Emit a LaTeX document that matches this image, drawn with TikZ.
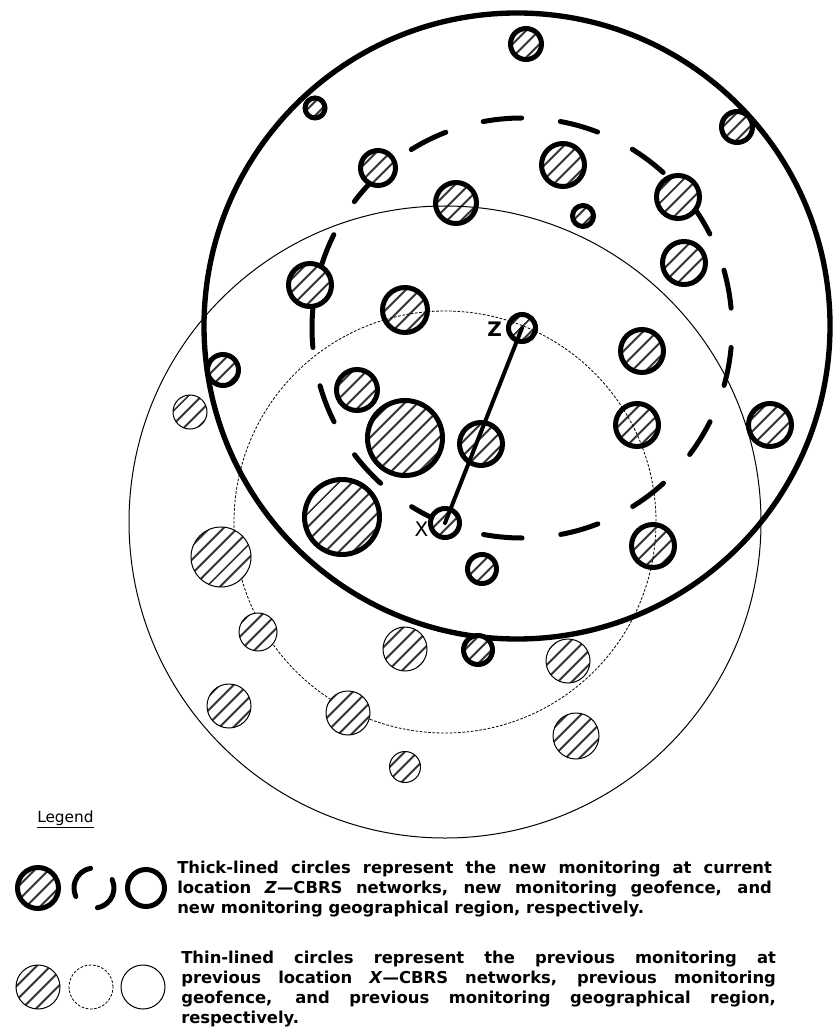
\documentclass[tikz,border=0pt]{standalone}
\usepackage{fontspec}
\setmainfont{DejaVu Sans}
\usepackage{tikz}
\usetikzlibrary{patterns.meta}
\tikzset{
  hatch/.style={preaction={fill=white}, pattern={Lines[angle=45,distance=7.4pt,line width=1.6pt]}, pattern color=black!80},
  newnet/.style={circle, draw, line width=3.75pt, hatch, inner sep=0pt, outer sep=0pt, minimum size=#1*1.5pt},
  oldnet/.style={circle, draw, line width=0.75pt, hatch, inner sep=0pt, outer sep=0pt, minimum size=#1*1.5pt},
  newzone/.style={line width=4pt},
  newfence/.style={line width=3.75pt, line cap=round, dash pattern=on 29pt off 29.2pt, dash phase=43.6pt},
  fencekey/.style={line width=3.75pt, line cap=round},
  oldzone/.style={line width=0.75pt},
  oldfence/.style={line width=0.6pt, dash pattern=on 2pt off 1.2pt},
  keyring/.style={circle, draw, inner sep=0pt, outer sep=0pt, minimum size=#1*1.5pt},
  track/.style={line width=3pt, line cap=round},
  posname/.style={inner sep=0pt, font=\fontsize{15}{18}\selectfont},
  keytext/.style={font=\bfseries\fontsize{12.3}{15}\selectfont, text width=446pt, align=justify, inner sep=0pt, anchor=north west}
}
\begin{document}
\begin{tikzpicture}[x=0.75pt, y=-0.75pt]
  \useasboundingbox (0,0) rectangle (835,1030);
  \coordinate (zc) at (517,326);
  \coordinate (xc) at (445,522);
  % new monitoring at Z
  \draw[newfence] (522,328) circle[radius=210];
  \draw[newzone] (zc) circle[radius=313];
  \node[newnet=15.5] (n1) at (526,44) {};
  \node[newnet=10] (n2) at (315,108) {};
  \node[newnet=15.5] (n3) at (737,127) {};
  \node[newnet=17.5] (n4) at (378,168) {};
  \node[newnet=21.5] (n5) at (563,165) {};
  \node[newnet=20.5] (n6) at (456,203) {};
  \node[newnet=21.5] (n7) at (678,197) {};
  \node[newnet=10.5] (n8) at (583,216) {};
  \node[newnet=21.5] (n9) at (684,263) {};
  \node[newnet=21.5] (n10) at (310,285) {};
  \node[newnet=22.5] (n11) at (405,310) {};
  \node[newnet=21.5] (n12) at (642,351) {};
  \node[newnet=15.5] (n13) at (223,370) {};
  \node[newnet=20.5] (n14) at (357,390) {};
  \node[newnet=37.5] (n15) at (405,438) {};
  \node[newnet=21.5] (n16) at (481,444) {};
  \node[newnet=21.5] (n17) at (637,425) {};
  \node[newnet=21.5] (n18) at (770,425) {};
  \node[newnet=37.5] (n19) at (342,517) {};
  \node[newnet=21.5] (n20) at (653,546) {};
  \node[newnet=14.5] (n21) at (482,569) {};
  \node[newnet=14.5] (n22) at (478,650) {};
  \node[newnet=13.5] (z) at (522,328) {};
  \node[newnet=14.5] (x) at (445,523) {};
  % previous monitoring at X
  \draw[oldzone] (xc) circle[radius=316];
  \draw[oldfence] (xc) circle[radius=211];
  \node[oldnet=17] (o1) at (190,412) {};
  \node[oldnet=30] (o2) at (221,557) {};
  \node[oldnet=19] (o3) at (258,632) {};
  \node[oldnet=22] (o4) at (405,649) {};
  \node[oldnet=22] (o5) at (568,661) {};
  \node[oldnet=22] (o6) at (229,706) {};
  \node[oldnet=22] (o7) at (348,713) {};
  \node[oldnet=23] (o8) at (576,736) {};
  \node[oldnet=15.5] (o9) at (405,767) {};
  \draw[track] (x.center) -- (z.center);
  \node[posname, font=\bfseries\fontsize{15}{18}\selectfont] (zname) at (494.5,329.5) {Z};
  \node[posname] (xname) at (421.5,529.5) {X};
  % legend
  \node[inner sep=0pt, anchor=base west, font=\fontsize{11.5}{14}\selectfont] (legend) at (37,822) {\underline{Legend}};
  \node[newnet=20.5] (keynew) at (38,888) {};
  \draw[fencekey] ([shift={(-100:20)}]94,888) arc[start angle=-100, end angle=-205, radius=20];
  \draw[fencekey] ([shift={(-25:20)}]94,888) arc[start angle=-25, end angle=80, radius=20];
  \node[keyring=18.5, line width=3.75pt] (keyzone) at (146,888) {};
  \node[keytext] (newtext) at (177,861) {Thick-lined circles represent the new monitoring at current\linebreak location \textit{Z}—CBRS networks, new monitoring geofence, and\linebreak new monitoring geographical region, respectively.};
  \node[oldnet=22] (keyold) at (38,987) {};
  \node[keyring=22, oldfence] (keyfence) at (91,987) {};
  \node[keyring=22, oldzone] (keyoldzone) at (143,987) {};
  \node[keytext] (oldtext) at (181,951) {Thin-lined circles represent the previous monitoring at\linebreak previous location \textit{X}—CBRS networks, previous monitoring\linebreak geofence, and previous monitoring geographical region,\linebreak respectively.};
\end{tikzpicture}
\end{document}
